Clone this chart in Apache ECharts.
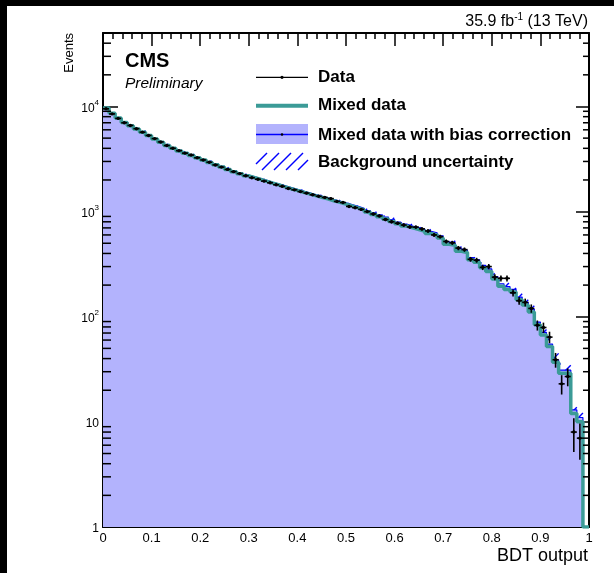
<!DOCTYPE html>
<html>
<head>
<meta charset="utf-8">
<script src="https://cdn.jsdelivr.net/npm/echarts/dist/echarts.min.js"></script>
<style>
html, body { margin: 0; padding: 0; background: #fff; }
#chart { width: 614px; height: 573px; }
</style>
</head>
<body>
<div id="chart"></div>
<script>
// Binning of the BDT output
const nBins = 80;
const xRange = [0, 1];

// Observed events per bin
const dataCounts = [
  9500, 8500, 7700, 7000, 6600, 6150, 5700, 5300, 4950, 4600,
  4250, 4000, 3800, 3600, 3450, 3250, 3100, 2950, 2780, 2650,
  2520, 2400, 2300, 2190, 2100, 2030, 1950, 1880, 1800, 1740,
  1660, 1610, 1550, 1500, 1445, 1400, 1365, 1330, 1250, 1220,
  1120, 1090, 1050, 1000, 950, 910, 840, 800, 775, 745,
  715, 712, 685, 655, 600, 578, 520, 505, 450, 435,
  352, 345, 295, 300, 238, 232, 232, 169, 142, 137,
  120, 83, 79, 64, 39, 23, 27, 8, 7, 0
];

// Mixed-data background prediction
const mixedData = [
  9650, 8600, 7750, 7050, 6550, 6100, 5700, 5300, 4900, 4560,
  4250, 4000, 3780, 3590, 3420, 3250, 3090, 2930, 2790, 2650,
  2520, 2400, 2290, 2190, 2100, 2020, 1940, 1860, 1790, 1720,
  1650, 1590, 1530, 1475, 1420, 1370, 1320, 1270, 1225, 1180,
  1130, 1085, 1040, 990, 940, 895, 850, 805, 765, 730,
  700, 675, 650, 620, 600, 560, 490, 478, 420, 408,
  348, 330, 292, 270, 228, 195, 182, 172, 145, 129,
  111, 84, 67, 52, 37, 29, 29, 12, 10, 0
];

// Mixed data after the bias correction
const correctedData = [
  9700, 8680, 7820, 7120, 6620, 6170, 5760, 5360, 4960, 4610,
  4300, 4050, 3830, 3640, 3460, 3290, 3130, 2970, 2830, 2690,
  2560, 2440, 2330, 2230, 2140, 2060, 1980, 1900, 1830, 1760,
  1690, 1630, 1570, 1510, 1455, 1405, 1355, 1305, 1260, 1215,
  1165, 1120, 1075, 1025, 975, 930, 885, 840, 795, 760,
  730, 705, 680, 650, 628, 588, 515, 502, 442, 430,
  366, 348, 308, 285, 241, 206, 193, 182, 154, 137,
  118, 89, 71, 55, 39, 31, 31, 13, 11, 0
];

// Absolute background uncertainty per bin
const bkgUncertainty = [
  290, 260, 235, 215, 200, 185, 175, 160, 150, 140,
  130, 120, 115, 110, 105, 100, 95, 90, 85, 82,
  78, 75, 72, 68, 66, 63, 61, 59, 57, 55,
  53, 51, 49, 48, 47, 45, 44, 43, 42, 41,
  40, 39, 38, 37, 36, 35, 34, 33, 32, 31,
  31, 30, 30, 29, 29, 28, 26, 26, 24, 24,
  22, 21, 20, 19, 18, 17, 16, 16, 15, 14,
  13, 11, 9, 8, 6, 5, 5, 2, 1.5, 0
];

// Axis ticks / labels
const xTickLabels = ['0', '0.1', '0.2', '0.3', '0.4', '0.5', '0.6', '0.7', '0.8', '0.9', '1'];
const yRange = [1, 50000];
const yMinorFactors = [2, 3, 4, 5, 6, 7, 8, 9];

const FONT = '"Liberation Sans", Arial, Helvetica, sans-serif';
const FILL_COLOR = '#b3b3fd';
const TEAL = '#3b9b97';
const BLUE = '#0000ff';
const HATCH_STEP = 12;

const binEdges = [];
for (let k = 0; k <= nBins; k++) {
  binEdges.push(+(xRange[0] + (xRange[1] - xRange[0]) * k / nBins).toFixed(6));
}

// Step outline of a histogram; empty bins drop to the axis floor
function stepPoints(values) {
  const pts = [];
  for (let k = 0; k < nBins; k++) {
    pts.push([binEdges[k], values[k] > 0 ? values[k] : yRange[0]]);
  }
  const last = values[nBins - 1] > 0 ? values[nBins - 1] : yRange[0];
  pts.push([binEdges[nBins], last]);
  return pts;
}

// "///" hatch strokes clipped to a pixel rectangle (globally aligned diagonals x + y = c)
function hatchLines(x0, y0, x1, y1, z) {
  const out = [];
  const cStart = Math.ceil((x0 + y0) / HATCH_STEP) * HATCH_STEP;
  for (let c = cStart; c <= x1 + y1; c += HATCH_STEP) {
    const xs = Math.max(x0, c - y1);
    const xe = Math.min(x1, c - y0);
    if (xe - xs > 0.3) {
      const seg = { type: 'line', shape: { x1: xs, y1: c - xs, x2: xe, y2: c - xe },
                    style: { stroke: BLUE, lineWidth: 1.4 } };
      if (z !== undefined) seg.z = z;
      out.push(seg);
    }
  }
  return out;
}

const bandItems = [];
const pointItems = [];
for (let k = 0; k < nBins; k++) {
  const xc = (binEdges[k] + binEdges[k + 1]) / 2;
  if (correctedData[k] > 0) bandItems.push([xc, correctedData[k], k, bkgUncertainty[k]]);
  if (dataCounts[k] > 0) pointItems.push([xc, dataCounts[k], k]);
}

const minorItems = [];
for (let d = 0; Math.pow(10, d) < yRange[1]; d++) {
  yMinorFactors.forEach(f => {
    const v = f * Math.pow(10, d);
    if (v < yRange[1]) minorItems.push([xRange[0], v]);
  });
}

// Powers of ten only: 1, 10, 10^2, ...
function supLabel(v) {
  const lg = Math.log10(v);
  const e = Math.round(lg);
  if (Math.abs(lg - e) > 1e-6) return '';
  if (e === 0) return '{b|1}';
  if (e === 1) return '{b|10}';
  return '{b|10}{s|' + e + '}';
}

const chart = echarts.init(document.getElementById('chart'), null, { renderer: 'canvas' });

const axisLineStyle = { color: '#000', width: 2 };
const tickStyle = { color: '#000', width: 1.5 };

const option = {
  animation: false,
  backgroundColor: '#fff',
  grid: { left: 103, top: 33, width: 486, height: 494, containLabel: false, outerBoundsMode: 'none' },
  xAxis: [
    {
      type: 'value', position: 'bottom', min: xRange[0], max: xRange[1], interval: 0.1,
      axisLine: { show: true, onZero: false, lineStyle: axisLineStyle },
      axisTick: { show: true, inside: true, length: 13, lineStyle: tickStyle },
      minorTick: { show: true, splitNumber: 5, length: 6, lineStyle: tickStyle },
      splitLine: { show: false }, minorSplitLine: { show: false },
      axisLabel: {
        show: true, margin: 5, color: '#000', fontFamily: FONT, fontSize: 13,
        formatter: v => xTickLabels[Math.round(v * 10)]
      }
    },
    {
      type: 'value', position: 'top', min: xRange[0], max: xRange[1], interval: 0.1,
      axisLine: { show: true, onZero: false, lineStyle: axisLineStyle },
      axisTick: { show: true, inside: true, length: 13, lineStyle: tickStyle },
      minorTick: { show: true, splitNumber: 5, length: 6, lineStyle: tickStyle },
      splitLine: { show: false }, axisLabel: { show: false }
    }
  ],
  yAxis: [
    {
      type: 'log', logBase: 10, position: 'left', min: yRange[0], max: yRange[1],
      axisLine: { show: true, onZero: false, lineStyle: axisLineStyle },
      axisTick: { show: true, inside: true, length: 15, lineStyle: tickStyle },
      minorTick: { show: false }, splitLine: { show: false },
      axisLabel: {
        show: true, margin: 4, color: '#000', fontFamily: FONT,
        showMaxLabel: false,
        formatter: supLabel,
        rich: {
          b: { fontSize: 12, fontFamily: FONT, color: '#000', verticalAlign: 'bottom', lineHeight: 16 },
          s: { fontSize: 8, fontFamily: FONT, color: '#000', verticalAlign: 'top', lineHeight: 16 }
        }
      }
    },
    {
      type: 'log', logBase: 10, position: 'right', min: yRange[0], max: yRange[1],
      axisLine: { show: true, onZero: false, lineStyle: axisLineStyle },
      axisTick: { show: true, inside: true, length: 13, lineStyle: tickStyle },
      minorTick: { show: false }, splitLine: { show: false }, axisLabel: { show: false }
    }
  ],
  series: [
    {
      // uncertainty band (hatched), underneath the filled histogram
      type: 'custom', name: 'Background uncertainty', xAxisIndex: 0, yAxisIndex: 0, z: 1,
      silent: true, clip: true,
      data: bandItems,
      encode: { x: 0, y: 1 },
      renderItem: function (params, api) {
        const k = api.value(2), c = api.value(1), u = api.value(3);
        const lo = Math.max(c - u, yRange[0]);
        const p0 = api.coord([binEdges[k], c + u]);
        const p1 = api.coord([binEdges[k + 1], lo]);
        return { type: 'group', children: hatchLines(p0[0], p0[1], p1[0], p1[1]) };
      }
    },
    {
      type: 'line', name: 'Mixed data with bias correction', xAxisIndex: 0, yAxisIndex: 0, z: 2,
      step: 'end', symbol: 'none', silent: true, clip: true,
      data: stepPoints(correctedData),
      lineStyle: { color: BLUE, width: 1.2 },
      areaStyle: { color: FILL_COLOR, opacity: 1, origin: 'start' }
    },
    {
      type: 'line', name: 'Mixed data', xAxisIndex: 0, yAxisIndex: 0, z: 3,
      step: 'end', symbol: 'none', silent: true, clip: true,
      data: stepPoints(mixedData),
      lineStyle: { color: TEAL, width: 3.5 }
    },
    {
      // minor log ticks on both vertical frame edges
      type: 'custom', xAxisIndex: 0, yAxisIndex: 0, z: 6, silent: true, clip: false,
      data: minorItems,
      encode: { x: 0, y: 1 },
      renderItem: function (params, api) {
        const v = api.value(1);
        const pl = api.coord([xRange[0], v]);
        const pr = api.coord([xRange[1], v]);
        return {
          type: 'group',
          children: [
            { type: 'line', shape: { x1: pl[0], y1: pl[1], x2: pl[0] + 8, y2: pl[1] }, style: { stroke: '#000', lineWidth: 1.5 } },
            { type: 'line', shape: { x1: pr[0] - 6, y1: pr[1], x2: pr[0], y2: pr[1] }, style: { stroke: '#000', lineWidth: 1.5 } }
          ]
        };
      }
    },
    {
      type: 'custom', name: 'Data', xAxisIndex: 0, yAxisIndex: 0, z: 5, silent: true, clip: true,
      data: pointItems,
      encode: { x: 0, y: 1 },
      renderItem: function (params, api) {
        const k = api.value(2), n = api.value(1);
        const err = Math.sqrt(n);
        const xc = api.value(0);
        const p = api.coord([xc, n]);
        const pl = api.coord([binEdges[k], n]);
        const pr = api.coord([binEdges[k + 1], n]);
        const pt = api.coord([xc, n + err]);
        const pb = api.coord([xc, Math.max(n - err, yRange[0])]);
        const st = { stroke: '#000', lineWidth: 1.6 };
        return {
          type: 'group',
          children: [
            { type: 'line', shape: { x1: pl[0], y1: p[1], x2: pr[0], y2: p[1] }, style: st },
            { type: 'line', shape: { x1: p[0], y1: pt[1], x2: p[0], y2: pb[1] }, style: st },
            { type: 'circle', shape: { cx: p[0], cy: p[1], r: 1.7 }, style: { fill: '#000' } }
          ]
        };
      }
    }
  ],
  graphic: [
    // dark frame strips along the left and top page edges
    { type: 'rect', left: 0, top: 0, shape: { width: 7, height: 573 }, style: { fill: '#000' }, z: 100 },
    { type: 'rect', left: 0, top: 0, shape: { width: 614, height: 6 }, style: { fill: '#000' }, z: 100 },

    { type: 'text', x: 125, y: 61, style: { text: 'CMS', font: 'bold 20px ' + FONT, fill: '#000', verticalAlign: 'middle' }, z: 50 },
    { type: 'text', x: 125, y: 84, style: { text: 'Preliminary', font: 'italic 15.5px ' + FONT, fill: '#000', verticalAlign: 'middle' }, z: 50 },

    {
      type: 'text', x: 588, y: 21, z: 50,
      style: {
        text: '{t|35.9 fb}{s|-1}{t| (13 TeV)}', align: 'right', verticalAlign: 'middle',
        rich: {
          t: { font: '16px ' + FONT, fill: '#000', verticalAlign: 'bottom', lineHeight: 18 },
          s: { font: '10px ' + FONT, fill: '#000', verticalAlign: 'top', lineHeight: 18 }
        }
      }
    },
    { type: 'text', x: 69.5, y: 33, rotation: Math.PI / 2, z: 50,
      style: { text: 'Events', font: '13px ' + FONT, fill: '#000', align: 'right', verticalAlign: 'middle' } },
    { type: 'text', x: 588, y: 556, z: 50,
      style: { text: 'BDT output', font: '18px ' + FONT, fill: '#000', align: 'right', verticalAlign: 'middle' } },

    // legend
    { type: 'line', z: 50, shape: { x1: 256, y1: 77.3, x2: 308, y2: 77.3 }, style: { stroke: '#000', lineWidth: 1.2 } },
    { type: 'circle', z: 50, shape: { cx: 282, cy: 77.3, r: 1.6 }, style: { fill: '#000' } },
    { type: 'text', z: 50, x: 318, y: 77.3, style: { text: 'Data', font: 'bold 17px ' + FONT, fill: '#000', verticalAlign: 'middle' } },

    { type: 'line', z: 50, shape: { x1: 256, y1: 105.7, x2: 308, y2: 105.7 }, style: { stroke: TEAL, lineWidth: 4 } },
    { type: 'text', z: 50, x: 318, y: 105.7, style: { text: 'Mixed data', font: 'bold 17px ' + FONT, fill: '#000', verticalAlign: 'middle' } },

    { type: 'rect', z: 50, shape: { x: 256, y: 124, width: 52, height: 20 }, style: { fill: FILL_COLOR } },
    { type: 'line', z: 51, shape: { x1: 256, y1: 134.5, x2: 308, y2: 134.5 }, style: { stroke: BLUE, lineWidth: 1.5 } },
    { type: 'circle', z: 51, shape: { cx: 282, cy: 134.5, r: 1.3 }, style: { fill: '#000' } },
    { type: 'text', z: 50, x: 318, y: 135, style: { text: 'Mixed data with bias correction', font: 'bold 17px ' + FONT, fill: '#000', verticalAlign: 'middle' } },

    { type: 'group', z: 50, children: hatchLines(256, 153, 308, 170, 50) },
    { type: 'text', z: 50, x: 318, y: 162.7, style: { text: 'Background uncertainty', font: 'bold 17px ' + FONT, fill: '#000', verticalAlign: 'middle' } }
  ]
};

chart.setOption(option);
</script>
</body>
</html>
